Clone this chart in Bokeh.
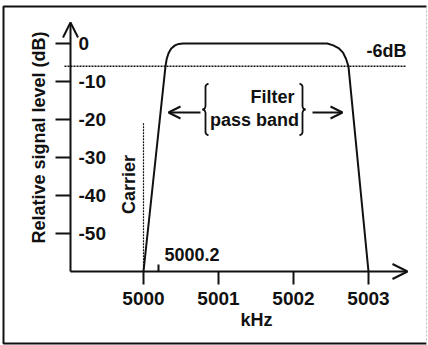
import math
from bokeh.plotting import figure
from bokeh.models import (LinearAxis, FixedTicker, Range1d, Label, Arrow, OpenHead)
from bokeh.embed import file_html
from bokeh.resources import INLINE

# ---- data ----
freq_khz = [5000.0, 5000.293, 5000.31, 5000.335, 5000.37, 5000.42, 5000.47, 5000.53,
            5002.45, 5002.53, 5002.60, 5002.66, 5002.70, 5002.733, 5003.0]
level_db = [-60, -6, -4, -2.5, -1.3, -0.5, -0.1, 0,
            0, -0.5, -1.2, -2.4, -4.0, -6, -60]
x_ticks = [5000, 5001, 5002, 5003]
x_tick_labels = ["5000", "5001", "5002", "5003"]
y_ticks = [0, -10, -20, -30, -40, -50]
y_tick_labels = ["0", "-10", "-20", "-30", "-40", "-50"]
carrier_khz = 5000.0
carrier_top_db = -21
cutoff_db = -6
marker_khz = 5000.2
floor_db = -60

FONT = "Liberation Sans"
INK = "#111111"
W, H = 428, 345
PX_PER_KHZ = 75.0
PX_PER_DB = 3.8
X0 = 5000 - 143 / PX_PER_KHZ
Y1 = 43 / PX_PER_DB
X1 = X0 + W / PX_PER_KHZ
Y0 = Y1 - H / PX_PER_DB


def sx(px):  # screen pixel -> kHz (for annotations only)
    return X0 + px / PX_PER_KHZ


def sy(py):  # screen pixel -> dB (for annotations only)
    return Y1 - py / PX_PER_DB


AXIS_X = sx(70)

p = figure(width=W, height=H, x_range=Range1d(X0, X1), y_range=Range1d(Y0, Y1),
           x_axis_type=None, y_axis_type=None, output_backend="svg",
           toolbar_location=None, min_border=0)
p.outline_line_color = None
p.background_fill_color = "white"
p.border_fill_color = "white"

# axes through the library
xa = LinearAxis(fixed_location=floor_db, ticker=FixedTicker(ticks=x_ticks))
xa.major_label_overrides = dict(zip(x_ticks, x_tick_labels))
xa.axis_line_color = None
xa.major_tick_out = 13
xa.major_tick_in = 0
xa.major_tick_line_width = 2
xa.major_tick_line_color = INK
xa.minor_tick_line_color = None
xa.major_label_standoff = 7
xa.major_label_text_font = FONT
xa.major_label_text_font_size = "19px"
xa.major_label_text_font_style = "bold"
xa.major_label_text_color = INK
p.add_layout(xa, "below")

ya = LinearAxis(fixed_location=AXIS_X, ticker=FixedTicker(ticks=y_ticks))
ya.major_label_overrides = dict(zip(y_ticks, y_tick_labels))
ya.axis_line_color = None
ya.major_tick_out = 0
ya.major_tick_in = 15
ya.major_tick_line_width = 2
ya.major_tick_line_color = INK
ya.minor_tick_line_color = None
ya.major_label_standoff = 8
ya.major_label_text_font = FONT
ya.major_label_text_font_size = "19px"
ya.major_label_text_font_style = "bold"
ya.major_label_text_color = INK
p.add_layout(ya, "right")

# axis lines with arrow heads
p.add_layout(Arrow(x_start=AXIS_X, y_start=floor_db, x_end=sx(407), y_end=floor_db,
                   line_width=2, line_color=INK,
                   end=OpenHead(size=15, line_width=2, line_color=INK)))
p.add_layout(Arrow(x_start=AXIS_X, y_start=floor_db, x_end=AXIS_X, y_end=sy(22),
                   line_width=2, line_color=INK,
                   end=OpenHead(size=15, line_width=2, line_color=INK)))

# filter response
p.line(freq_khz, level_db, line_width=2, line_color=INK)

# -6 dB dotted line
p.line([sx(64), sx(405)], [cutoff_db, cutoff_db], line_width=1.6,
       line_color=INK, line_dash="2 1")
# carrier dotted line
p.line([carrier_khz, carrier_khz], [carrier_top_db, floor_db], line_width=1.2,
       line_color=INK, line_dash="2 1")
# 5000.2 marker tick
p.line([marker_khz, marker_khz], [floor_db, floor_db + 7 / PX_PER_DB],
       line_width=2, line_color=INK)

# frame around the figure
p.line([sx(426), sx(3), sx(3), sx(426)], [sy(6), sy(6), sy(343), sy(343)],
       line_width=2, line_color=INK)
p.line([sx(426), sx(426)], [sy(6), sy(343)], line_width=1, line_color="#bbbbbb",
       line_dash="2 2")


def lbl(px, py, text, size="18px", angle=0.0, align="left", baseline="middle", style="bold"):
    p.add_layout(Label(x=sx(px), y=sy(py), text=text, angle=angle, text_align=align,
                       text_baseline=baseline, text_font=FONT, text_font_size=size,
                       text_font_style=style, text_color=INK))

lbl(38, 137, "Relative signal level (dB)", angle=math.pi / 2, align="center")
lbl(128, 184, "Carrier", angle=math.pi / 2, align="center")
lbl(256, 319, "kHz", align="center")
lbl(164, 254, "5000.2")
lbl(366, 50, "-6dB")
lbl(272, 96, "Filter", align="center")
lbl(254, 119, "pass band", align="center")

# pass-band arrows
p.add_layout(Arrow(x_start=sx(200), y_start=sy(112), x_end=sx(168), y_end=sy(112),
                   line_width=2, line_color=INK,
                   end=OpenHead(size=12, line_width=2, line_color=INK)))
p.add_layout(Arrow(x_start=sx(312), y_start=sy(112), x_end=sx(342), y_end=sy(112),
                   line_width=2, line_color=INK,
                   end=OpenHead(size=12, line_width=2, line_color=INK)))


def brace(xc, ytop, ybot, w, h, left=True):
    s = 1 if left else -1
    ym = (ytop + ybot) / 2
    xs = [xc + s * w, xc + s * w * 0.3, xc, xc, xc - s * w * 0.3, xc - s * w,
          xc - s * w * 0.3, xc, xc, xc + s * w * 0.3, xc + s * w]
    ys = [ytop, ytop - h * 0.4, ytop - h, ym + h, ym + h * 0.3, ym,
          ym - h * 0.3, ym - h, ybot + h, ybot + h * 0.4, ybot]
    return xs, ys

bx, by = brace(sx(205), sy(83), sy(135), 3 / PX_PER_KHZ, 3 / PX_PER_DB, left=True)
p.line(bx, by, line_width=1.8, line_color=INK)
bx, by = brace(sx(302), sy(83), sy(135), 3 / PX_PER_KHZ, 3 / PX_PER_DB, left=False)
p.line(bx, by, line_width=1.8, line_color=INK)

open("out.html", "w").write(file_html(p, INLINE))
